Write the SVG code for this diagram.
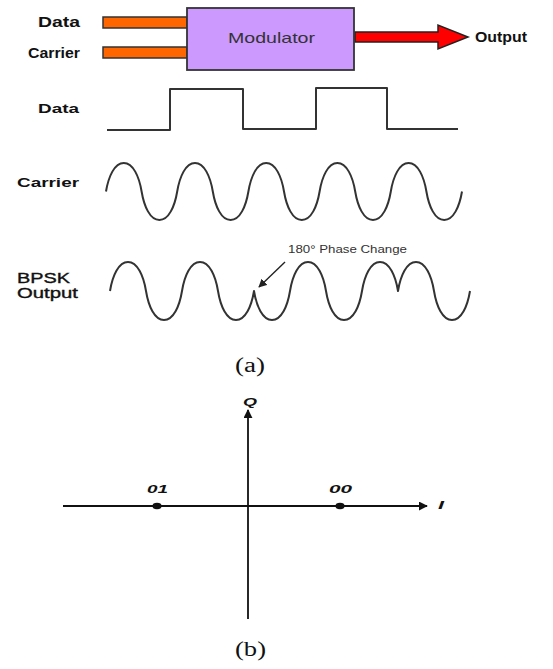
<svg xmlns="http://www.w3.org/2000/svg" width="553" height="669" viewBox="0 0 553 669">
  <style>
    .lbl { font-family: "Liberation Sans", Arial, sans-serif; font-weight: bold; fill: #111; }
    .lbl-n { font-family: "Liberation Sans", Arial, sans-serif; fill: #111; stroke: #111; stroke-width: 0.35; }
    .cap { font-family: "Liberation Serif", "Times New Roman", serif; fill: #111; font-size: 20px; }
    .axl { font-family: "Liberation Sans", Arial, sans-serif; font-weight: bold; font-style: italic; fill: #111; font-size: 11px; }
    .bar { fill: #ff6600; stroke: #333; stroke-width: 1.5; }
    .wave { fill: none; stroke: #333; stroke-width: 2; stroke-linejoin: round; }
    .axis { fill: none; stroke: #111; stroke-width: 1.8; }
  </style>
  <defs>
    <marker id="axhead" viewBox="0 0 10 10" refX="9" refY="5" markerWidth="5" markerHeight="5" orient="auto" markerUnits="strokeWidth">
      <path d="M0,0 L10,5 L0,10 Z" fill="#111"/>
    </marker>
    <marker id="thin" viewBox="0 0 10 10" refX="9" refY="5" markerWidth="6" markerHeight="6" orient="auto" markerUnits="strokeWidth">
      <path d="M0,0 L10,5 L0,10 Z" fill="#222"/>
    </marker>
  </defs>
  <rect width="553" height="669" fill="#ffffff"/>

  <!-- (a) block diagram -->
  <g id="input-labels">
    <text class="lbl" x="38" y="27" font-size="14" textLength="42" lengthAdjust="spacingAndGlyphs">Data</text>
    <text class="lbl" x="28" y="58" font-size="14" textLength="52" lengthAdjust="spacingAndGlyphs">Carrier</text>
  </g>

  <g id="connectors">
    <rect class="bar" x="103" y="17" width="84" height="11"/>
    <rect class="bar" x="103" y="47" width="84" height="11"/>
    <path d="M355,32 L438,32 L438,25 L468,37 L438,49 L438,42 L355,42 Z" fill="#ff0000" stroke="#222" stroke-width="1.5" stroke-linejoin="miter"/>
    <line x1="285" y1="262" x2="259" y2="287" stroke="#222" stroke-width="1.4" marker-end="url(#thin)"/>
  </g>

  <g id="modulator">
    <rect x="187" y="8" width="167" height="62" fill="#cc99ff" stroke="#333" stroke-width="1.8"/>
    <text x="228" y="43" font-family="Liberation Sans, Arial, sans-serif" font-size="15" fill="#333" textLength="87" lengthAdjust="spacingAndGlyphs">Modulator</text>
  </g>

  <g id="output-label">
    <text class="lbl" x="475" y="42" font-size="14" textLength="52" lengthAdjust="spacingAndGlyphs">Output</text>
  </g>

  <!-- waveforms -->
  <g id="data-wave">
    <text class="lbl" x="38" y="113" font-size="13" textLength="41" lengthAdjust="spacingAndGlyphs">Data</text>
    <path class="wave" d="M107,130 L170,130 L170,89 L243,89 L243,129 L316,129 L316,88 L387,88 L387,129 L458,129"/>
  </g>

  <g id="carrier-wave">
    <text class="lbl" x="17" y="187" font-size="13" textLength="62" lengthAdjust="spacingAndGlyphs">Carrier</text>
    <path class="wave" stroke="#555" d="M106,191.5
      c2.5,-15 8.5,-28.5 17.8,-28.5 c9.3,0 15.3,13.5 17.8,28.5 c2.5,15 8.5,28.5 17.8,28.5 c9.3,0 15.3,-13.5 17.8,-28.5
      c2.5,-15 8.5,-28.5 17.8,-28.5 c9.3,0 15.3,13.5 17.8,28.5 c2.5,15 8.5,28.5 17.8,28.5 c9.3,0 15.3,-13.5 17.8,-28.5
      c2.5,-15 8.5,-28.5 17.8,-28.5 c9.3,0 15.3,13.5 17.8,28.5 c2.5,15 8.5,28.5 17.8,28.5 c9.3,0 15.3,-13.5 17.8,-28.5
      c2.5,-15 8.5,-28.5 17.8,-28.5 c9.3,0 15.3,13.5 17.8,28.5 c2.5,15 8.5,28.5 17.8,28.5 c9.3,0 15.3,-13.5 17.8,-28.5
      c2.5,-15 8.5,-28.5 17.8,-28.5 c9.3,0 15.3,13.5 17.8,28.5 c2.5,15 8.5,28.5 17.8,28.5 c9.3,0 15.3,-13.5 17.8,-28.5"/>
  </g>

  <g id="bpsk-wave">
    <text class="lbl-n" x="17" y="283" font-size="14" textLength="53" lengthAdjust="spacingAndGlyphs">BPSK</text>
    <text class="lbl-n" x="17" y="298" font-size="14" textLength="61" lengthAdjust="spacingAndGlyphs">Output</text>
    <text x="288" y="253" font-family="Liberation Sans, Arial, sans-serif" font-size="10" fill="#333" textLength="119" lengthAdjust="spacingAndGlyphs">180° Phase Change</text>
    <path class="wave" stroke-width="1.8" d="M110,291
      c2.5,-15.3 8.6,-29 18,-29 c9.4,0 15.5,13.7 18,29 c2.5,15.3 8.6,29 18,29 c9.4,0 15.5,-13.7 18,-29
      c2.5,-15.3 8.6,-29 18,-29 c9.4,0 15.5,13.7 18,29 c2.5,15.3 8.6,29 18,29 c9.4,0 15.5,-13.7 18,-29
      c2.5,15.3 8.6,29 18,29 c9.4,0 15.5,-13.7 18,-29 c2.5,-15.3 8.6,-29 18,-29 c9.4,0 15.5,13.7 18,29
      c2.5,15.3 8.6,29 18,29 c9.4,0 15.5,-13.7 18,-29 c2.5,-15.3 8.6,-29 18,-29 c9.4,0 15.5,13.7 18,29
      c2.5,-15.3 8.6,-29 18,-29 c9.4,0 15.5,13.7 18,29 c2.5,15.3 8.6,29 18,29 c9.4,0 15.5,-13.7 18,-29"/>
  </g>

  <text id="caption-a" class="cap" x="235" y="372" textLength="30" lengthAdjust="spacingAndGlyphs">(a)</text>

  <!-- (b) constellation -->
  <g id="constellation">
    <line class="axis" x1="63" y1="506" x2="427" y2="506" marker-end="url(#axhead)"/>
    <line class="axis" x1="248" y1="619" x2="248" y2="410" marker-end="url(#axhead)"/>
    <text class="axl" x="243" y="406" textLength="14" lengthAdjust="spacingAndGlyphs">Q</text>
    <text class="axl" x="438" y="509" textLength="6" lengthAdjust="spacingAndGlyphs">I</text>
  </g>
  <g id="point-01">
    <ellipse cx="157" cy="506" rx="4.5" ry="3.3" fill="#111"/>
    <text class="axl" x="147" y="493" textLength="21" lengthAdjust="spacingAndGlyphs">01</text>
  </g>
  <g id="point-00">
    <ellipse cx="340" cy="506" rx="4.5" ry="3.3" fill="#111"/>
    <text class="axl" x="329" y="493" textLength="23" lengthAdjust="spacingAndGlyphs">00</text>
  </g>

  <text id="caption-b" class="cap" x="235" y="656" textLength="31" lengthAdjust="spacingAndGlyphs">(b)</text>
</svg>
